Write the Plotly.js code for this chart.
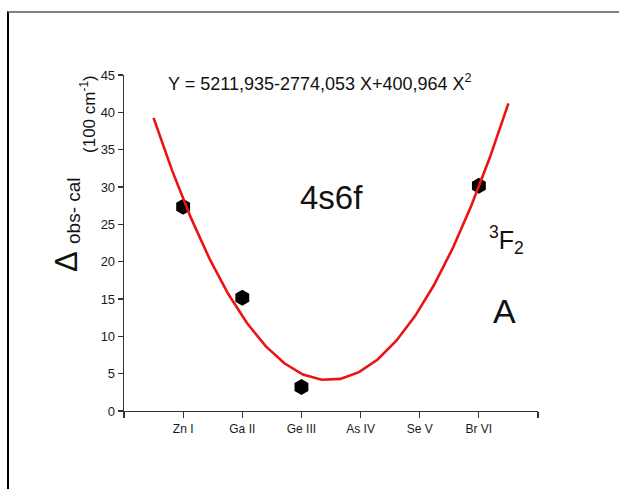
<!DOCTYPE html>
<html>
<head>
<meta charset="utf-8">
<script src="https://cdn.plot.ly/plotly-3.0.1.min.js"></script>
<style>
html,body{margin:0;padding:0;background:#fff;overflow:hidden;}
#wrap{position:relative;width:619px;height:489px;overflow:hidden;}
#chart{width:619px;height:489px;}
#frame{position:absolute;left:7px;top:11px;width:700px;height:600px;border-top:2px solid #808080;border-left:2px solid #000;pointer-events:none;}
</style>
</head>
<body>
<div id="wrap"><div id="chart"></div><div id="frame"></div></div>
<script>
// ---- data ----
const ionLabels = ["", "Zn I", "Ga II", "Ge III", "As IV", "Se V", "Br VI", ""];
const ionPositions = [0, 1, 2, 3, 4, 5, 6, 7];
const obsX = [1, 2, 3, 6];
const obsY = [27.37, 15.16, 3.21, 30.17];
const fitX = [0.5, 0.816, 1.132, 1.447, 1.763, 2.079, 2.395, 2.711, 3.026, 3.342,
              3.658, 3.974, 4.289, 4.605, 4.921, 5.237, 5.553, 5.868, 6.184, 6.5];
const fitY = [39.25, 32.16, 25.86, 20.37, 15.67, 11.78, 8.68, 6.39, 4.89, 4.19,
              4.30, 5.20, 6.90, 9.41, 12.71, 16.81, 21.71, 27.41, 33.91, 41.21];
const yTicks = [0, 5, 10, 15, 20, 25, 30, 35, 40, 45];

// ---- layout helpers (pixel -> paper) ----
const L = 124.3, R = 538, T = 74.7, B = 410.7;
const px = x => (x - L) / (R - L);
const py = y => (B - y) / (B - T);
const FONT = "Liberation Sans, Arial, sans-serif";

const traces = [
  {x: obsX, y: obsY, type: "scatter", mode: "markers",
   marker: {symbol: "hexagon", size: 16, color: "#000"}, showlegend: false, hoverinfo: "skip"},
  {x: fitX, y: fitY, type: "scatter", mode: "lines",
   line: {color: "#ec1313", width: 2.6}, showlegend: false, hoverinfo: "skip"}
];

const layout = {
  width: 619, height: 489,
  margin: {l: L, r: 619 - R, t: T, b: 489 - B, pad: 0},
  paper_bgcolor: "#fff", plot_bgcolor: "#fff",
  font: {family: FONT, color: "#111"},
  xaxis: {range: [0, 7], tickvals: ionPositions, ticktext: ionLabels,
          showgrid: false, zeroline: false, showline: true, linecolor: "#333", linewidth: 1.3,
          ticks: "outside", ticklen: 6, tickwidth: 1.2, tickcolor: "#333",
          tickfont: {size: 12, family: FONT, color: "#1a1a1a"}, fixedrange: true},
  yaxis: {range: [0, 45], tickvals: yTicks,
          showgrid: false, zeroline: false, showline: true, linecolor: "#333", linewidth: 1.3,
          ticks: "outside", ticklen: 5, tickwidth: 1.2, tickcolor: "#333",
          tickfont: {size: 13, family: FONT, color: "#1a1a1a"}, fixedrange: true},
  annotations: [
    {xref: "paper", yref: "paper", x: px(320), y: py(82), xanchor: "center", yanchor: "middle",
     text: "Y = 5211,935-2774,053 X+400,964 X<sup>2</sup>", showarrow: false,
     font: {size: 18, family: FONT, color: "#111"}},
    {xref: "paper", yref: "paper", x: px(332), y: py(197), xanchor: "center", yanchor: "middle",
     text: "4s6f", showarrow: false, font: {size: 33, family: FONT, color: "#111"}},
    {xref: "paper", yref: "paper", x: px(507), y: py(240), xanchor: "center", yanchor: "middle",
     text: "<sup>3</sup>F<sub>2</sub>", showarrow: false, font: {size: 25, family: FONT, color: "#111"}},
    {xref: "paper", yref: "paper", x: px(505), y: py(311), xanchor: "center", yanchor: "middle",
     text: "A", showarrow: false, font: {size: 34, family: FONT, color: "#111"}},
    {xref: "paper", yref: "paper", x: px(67), y: py(261), xanchor: "center", yanchor: "middle",
     text: "Δ", textangle: -90, showarrow: false, font: {size: 31, family: FONT, color: "#111"}},
    {xref: "paper", yref: "paper", x: px(74), y: py(210), xanchor: "center", yanchor: "middle",
     text: "obs- cal", textangle: -90, showarrow: false, font: {size: 19, family: FONT, color: "#111"}},
    {xref: "paper", yref: "paper", x: px(89), y: py(114), xanchor: "center", yanchor: "middle",
     text: "(100 cm<sup>-1</sup>)", textangle: -90, showarrow: false, font: {size: 17, family: FONT, color: "#111"}}
  ]
};

Plotly.newPlot("chart", traces, layout, {staticPlot: true, displayModeBar: false});
</script>
</body>
</html>
